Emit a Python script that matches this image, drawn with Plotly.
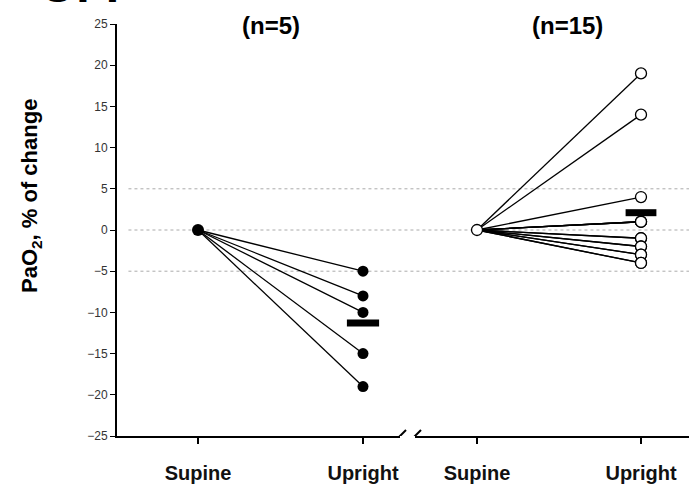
import plotly.graph_objects as go

# ---- data ----
positions = ["Supine", "Upright"]
pos_x = [0, 1]
left_upright = [-5, -8, -10, -15, -19]          # n=5, filled
left_mean = -11.3
right_upright = [19, 14, 4, 1, 1, 1, 1, -1, -1, -2, -2, -3, -3, -4, -4]   # n=15, open
right_mean = 2.1
supine_value = 0
y_ticks = [25, 20, 15, 10, 5, 0, -5, -10, -15, -20, -25]
grid_levels = [5, 0, -5]
group_labels = ["(n=5)", "(n=15)"]

fig = go.Figure()

# left group lines
for v in left_upright:
    fig.add_trace(go.Scatter(x=pos_x, y=[supine_value, v], mode="lines",
                             line=dict(color="black", width=1.3), xaxis="x", yaxis="y",
                             showlegend=False, hoverinfo="skip"))
fig.add_trace(go.Scatter(x=[pos_x[1]] * len(left_upright), y=left_upright, mode="markers",
                         marker=dict(color="black", size=11), xaxis="x", yaxis="y", showlegend=False))
fig.add_trace(go.Scatter(x=[pos_x[0]], y=[supine_value], mode="markers",
                         marker=dict(color="black", size=12), xaxis="x", yaxis="y", showlegend=False))
fig.add_trace(go.Scatter(x=[pos_x[1]], y=[left_mean], mode="markers",
                         marker=dict(symbol="line-ew", size=23, line=dict(color="black", width=7)),
                         xaxis="x", yaxis="y", showlegend=False))

# right group lines
for v in right_upright:
    fig.add_trace(go.Scatter(x=pos_x, y=[supine_value, v], mode="lines",
                             line=dict(color="black", width=1.3), xaxis="x2", yaxis="y",
                             showlegend=False, hoverinfo="skip"))
fig.add_trace(go.Scatter(x=[pos_x[1]], y=[right_mean], mode="markers",
                         marker=dict(symbol="line-ew", size=22, line=dict(color="black", width=7)),
                         xaxis="x2", yaxis="y", showlegend=False))
fig.add_trace(go.Scatter(x=[pos_x[1]] * len(right_upright), y=right_upright, mode="markers",
                         marker=dict(color="white", size=11, line=dict(color="black", width=1.3)),
                         xaxis="x2", yaxis="y", showlegend=False))
fig.add_trace(go.Scatter(x=[pos_x[0]], y=[supine_value], mode="markers",
                         marker=dict(color="white", size=11, line=dict(color="black", width=1.3)),
                         xaxis="x2", yaxis="y", showlegend=False))

W, H = 689, 486
L, R, T, B = 117, 0, 24, 50
pw = W - L - R
left_end = (400 - L) / pw
right_start = (415 - L) / pw

xcommon = dict(showline=True, linecolor="black", linewidth=2, ticks="outside", ticklen=6,
               tickwidth=1.5, tickcolor="black", tickvals=pos_x,
               ticktext=[f"<b>{t}</b>" for t in positions],
               tickfont=dict(family="Liberation Sans, Arial", size=20, color="#111"),
               showgrid=False, zeroline=False, ticklabelstandoff=12)

fig.update_layout(
    width=W, height=H,
    margin=dict(l=L, r=R, t=T, b=B),
    plot_bgcolor="white", paper_bgcolor="white",
    xaxis=dict(domain=[0, left_end], range=[-81 / 165, (400 - 198) / 165], **xcommon),
    xaxis2=dict(domain=[right_start, 1], range=[-62 / 164, 212 / 164], anchor="y", **xcommon),
    yaxis=dict(range=[-25, 25], tickvals=y_ticks, showline=True, linecolor="black", linewidth=2,
               ticks="outside", ticklen=5, tickcolor="black",
               tickfont=dict(family="Liberation Sans, Arial", size=12, color="#333"),
               showgrid=False, zeroline=False),
)

shapes = []
for g in grid_levels:
    shapes.append(dict(type="line", xref="paper", yref="y", x0=0.02, x1=1, y0=g, y1=g,
                       line=dict(color="#aaaaaa", width=1, dash="dot"), layer="below"))
# axis break slashes
for xp in [left_end, right_start]:
    shapes.append(dict(type="line", xref="paper", yref="y", xsizemode="pixel", ysizemode="pixel",
                       xanchor=xp, yanchor=-25, x0=-6, x1=6, y0=-6, y1=6,
                       line=dict(color="black", width=2)))
fig.update_layout(shapes=shapes)

label_font = dict(family="Liberation Sans, Arial", size=24, color="black")
annotations = [
    dict(text=f"<b>{group_labels[0]}</b>", xref="x", yref="paper", x=(271 - 198) / 165, y=1.0,
         yshift=-1, xanchor="center", yanchor="middle", showarrow=False, font=label_font),
    dict(text=f"<b>{group_labels[1]}</b>", xref="x2", yref="paper", x=(567 - 477) / 164, y=1.0,
         yshift=-1, xanchor="center", yanchor="middle", showarrow=False, font=label_font),
    dict(text="<b>PaO<sub>2</sub>, % of change</b>", xref="paper", yref="paper", x=0, xshift=-86,
         y=(436 - 196) / 412, xanchor="center", yanchor="middle", textangle=-90, showarrow=False,
         font=dict(family="Liberation Sans, Arial", size=22, color="black")),
    dict(text="<b>OFF</b>", xref="paper", yref="paper", x=0, xshift=-80, y=1, yshift=10,
         xanchor="left", yanchor="bottom", showarrow=False,
         font=dict(family="Liberation Sans, Arial", size=48, color="black")),
]
fig.update_layout(annotations=annotations)

fig.write_html("out.html")
